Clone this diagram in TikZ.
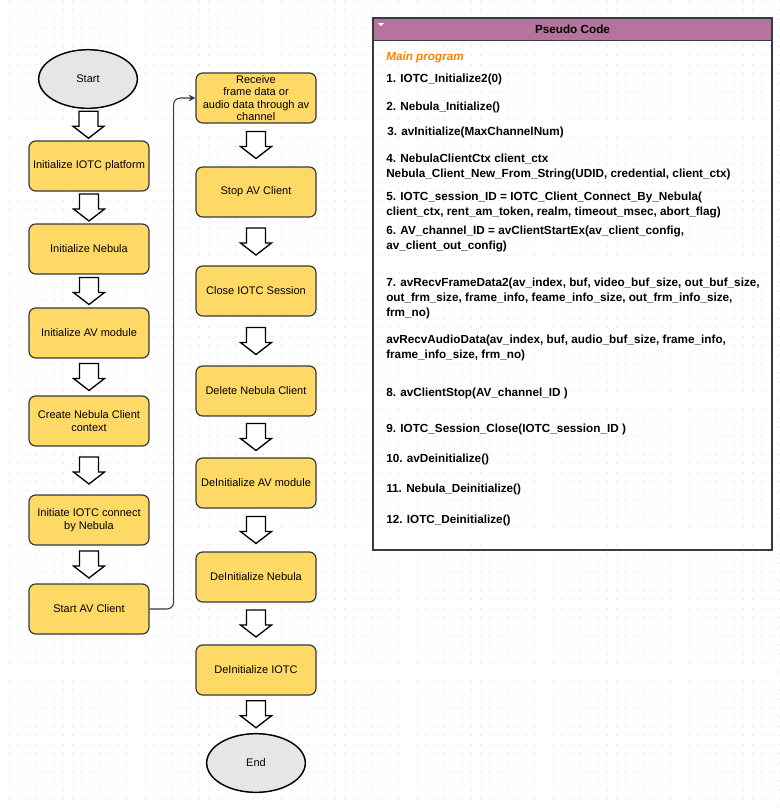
\documentclass[tikz,border=0pt]{standalone}
\usepackage{fontspec}
\setmainfont{Liberation Sans}
\usetikzlibrary{shapes.geometric,arrows.meta,calc,patterns.meta}

\definecolor{boxfill}{RGB}{255,217,102}
\definecolor{boxline}{RGB}{54,57,61}
\definecolor{termfill}{RGB}{230,230,230}
\definecolor{headfill}{RGB}{181,115,157}
\definecolor{progorange}{RGB}{255,128,0}
\definecolor{griddot}{RGB}{220,220,220}

\newcommand{\boxfont}{\fontsize{8.25}{9.75}\selectfont}
\newcommand{\codefont}{\fontsize{8.8}{11.25}\selectfont\bfseries}

\tikzset{
  flowbox/.style={draw=boxline, fill=boxfill, line width=0.9pt, rounded corners=5pt,
    minimum width=90pt, minimum height=37.5pt, align=center, inner sep=1pt, font=\boxfont},
  terminal/.style={ellipse, draw=black, fill=termfill, line width=1.1pt,
    minimum width=74pt, minimum height=44pt, font=\boxfont},
  code/.style={anchor=west, inner sep=0pt, align=left, font=\codefont},
  conn/.style={draw=boxline, line width=0.8pt, rounded corners=5pt, -{Stealth[length=5pt,width=5pt]}},
  blockarrow/.pic={
    \draw[fill=white, line width=1pt, line join=miter]
      (-9.5,-13.5) -- (9.5,-13.5) -- (9.5,1.5) -- (15.5,1.5) -- (0,13.5)
      -- (-15.5,1.5) -- (-9.5,1.5) -- cycle;
  }
}

\begin{document}
\begin{tikzpicture}[x=0.75pt, y=-0.75pt]

% background with dot grid
\useasboundingbox (0,0) rectangle (780,808);
\fill[white] (0,0) rectangle (780,808);
\fill[pattern={Dots[radius=0.5pt,distance=6.8pt]}, pattern color=griddot] (0,0) rectangle (780,808);

% left column
\node[terminal] (start) at (88,79) {Start};
\node[flowbox] (iotc) at (89,166) {Initialize IOTC platform};
\node[flowbox] (nebula) at (89,249) {Initialize Nebula};
\node[flowbox] (avmod) at (89,333) {Initialize AV module};
\node[flowbox] (ctx) at (89,421) {Create Nebula Client\\context};
\node[flowbox] (connect) at (89,520) {Initiate IOTC connect\\by Nebula};
\node[flowbox] (startav) at (89,609) {Start AV Client};

% right column
\node[flowbox, font=\fontsize{8.25}{9.4}\selectfont] (recv) at (256,98) {Receive\\frame data or\\audio data through av\\channel};
\node[flowbox] (stopav) at (256,192) {Stop AV Client};
\node[flowbox] (close) at (256,291) {Close IOTC Session};
\node[flowbox] (delete) at (256,391) {Delete Nebula Client};
\node[flowbox] (deav) at (256,483) {DeInitialize AV module};
\node[flowbox] (deneb) at (256,577) {DeInitialize Nebula};
\node[flowbox] (deiotc) at (256,670) {DeInitialize IOTC};
\node[terminal] (end) at (256,763) {End};

% block arrows
\foreach \a/\b in {start/iotc, iotc/nebula, nebula/avmod, avmod/ctx, ctx/connect, connect/startav,
                   recv/stopav, stopav/close, close/delete, delete/deav, deav/deneb, deneb/deiotc, deiotc/end}
  \pic at ($(\a.south)!0.5!(\b.north)$) {blockarrow};

\draw[conn] (startav.east) -- ++(24,0) |- (recv.west);

% pseudo code panel
\node[draw=boxline, line width=1pt, minimum width=299.25pt, minimum height=399pt, inner sep=0pt] (panel) at (572.5,284) {};
\node[draw=boxline, line width=1pt, fill=headfill, anchor=north, minimum width=299.25pt, minimum height=17pt,
  inner sep=0pt, font=\codefont] (head) at (panel.north) {Pseudo Code};
\fill[white] (378,23) -- (384,23) -- (381,26) -- cycle;

\node[code] (main) at (386,57) {\textcolor{progorange}{\itshape Main program}};
\node[code] (l1) at (386,79) {1. IOTC\_Initialize2(0)};
\node[code] (l2) at (386,107) {2. Nebula\_Initialize()};
\node[code] (l3) at (387,132) {3. avInitialize(MaxChannelNum)};
\node[code] (l4) at (386,166.5) {4. NebulaClientCtx client\_ctx\\Nebula\_Client\_New\_From\_String(UDID, credential, client\_ctx)};
\node[code] (l5) at (386,204.5) {5. IOTC\_session\_ID = IOTC\_Client\_Connect\_By\_Nebula(\\client\_ctx, rent\_am\_token, realm, timeout\_msec, abort\_flag)};
\node[code] (l6) at (386,238.5) {6. AV\_channel\_ID = avClientStartEx(av\_client\_config,\\av\_client\_out\_config)};
\node[code] (l7) at (386,298.5) {7. avRecvFrameData2(av\_index, buf, video\_buf\_size, out\_buf\_size,\\out\_frm\_size, frame\_info, feame\_info\_size, out\_frm\_info\_size,\\frm\_no)};
\node[code] (l7b) at (386,348) {avRecvAudioData(av\_index, buf, audio\_buf\_size, frame\_info,\\frame\_info\_size, frm\_no)};
\node[code] (l8) at (386,393) {8. avClientStop(AV\_channel\_ID )};
\node[code] (l9) at (386,429) {9. IOTC\_Session\_Close(IOTC\_session\_ID )};
\node[code] (l10) at (386,459) {10. avDeinitialize()};
\node[code] (l11) at (386,489) {11. Nebula\_Deinitialize()};
\node[code] (l12) at (386,520) {12. IOTC\_Deinitialize()};

\end{tikzpicture}
\end{document}
